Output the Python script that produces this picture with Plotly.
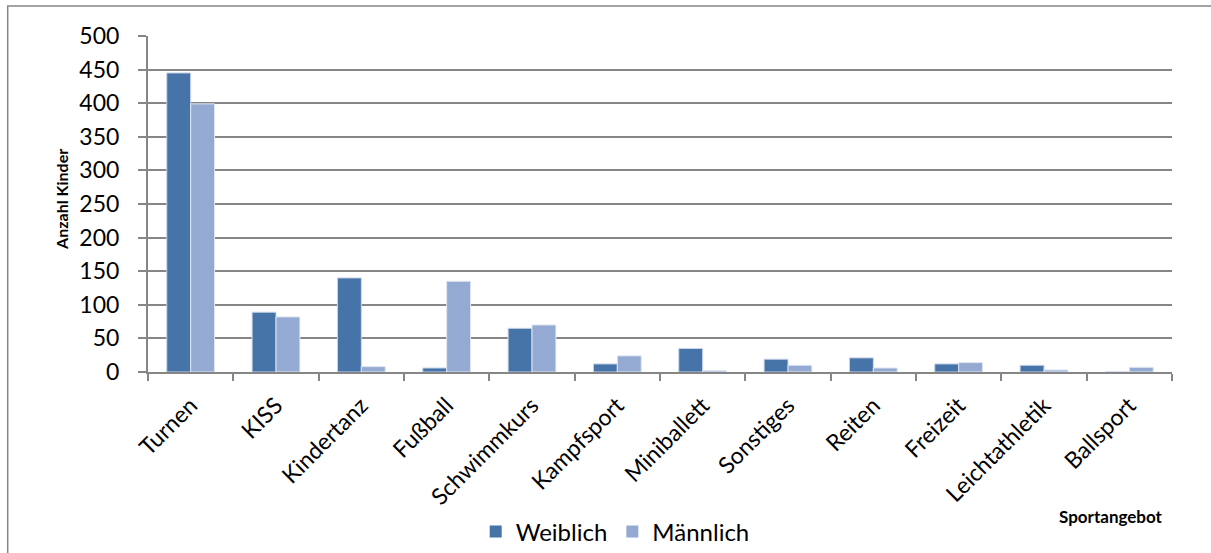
import plotly.graph_objects as go

categories = ["Turnen", "KISS", "Kindertanz", "Fußball", "Schwimmkurs", "Kampfsport",
              "Miniballett", "Sonstiges", "Reiten", "Freizeit", "Leichtathletik", "Ballsport"]
weiblich = [445, 89, 140, 6, 65, 12, 35, 19, 21, 12, 10, 0]
maennlich = [399, 82, 8, 135, 70, 24, 2, 10, 6, 14, 3, 7]
y_ticks = [0, 50, 100, 150, 200, 250, 300, 350, 400, 450, 500]

FONT = "Lato, 'Open Sans', sans-serif"
C_W = "#4673a8"
C_M = "#95aad2"

fig = go.Figure()
fig.add_trace(go.Bar(x=categories, y=weiblich, name="Weiblich", showlegend=False,
                     marker=dict(color=C_W, line=dict(color="#c9d5e8", width=1))))
fig.add_trace(go.Bar(x=categories, y=maennlich, name="Männlich", showlegend=False,
                     marker=dict(color=C_M, line=dict(color="#dfe6f2", width=1))))
# legend entries with square swatches
fig.add_trace(go.Scatter(x=[None], y=[None], mode="markers", name="Weiblich",
                         marker=dict(symbol="square", size=16, color=C_W)))
fig.add_trace(go.Scatter(x=[None], y=[None], mode="markers", name="Männlich",
                         marker=dict(symbol="square", size=16, color=C_M)))

fig.update_layout(
    width=1211, height=553,
    margin=dict(l=148, r=39, t=36, b=181, autoexpand=False),
    paper_bgcolor="white", plot_bgcolor="white",
    barmode="group", bargap=0.44, bargroupgap=0,
    font=dict(family=FONT, color="#000000"),
    showlegend=True,
    legend=dict(orientation="h", xref="container", x=0.508, xanchor="center",
                yref="container", y=0.038, yanchor="middle",
                font=dict(size=24, family=FONT), itemsizing="constant",
                traceorder="normal", itemwidth=30, bgcolor="rgba(0,0,0,0)"),
    xaxis=dict(type="category", tickangle=-45, tickfont=dict(size=23, family=FONT),
               showline=True, linecolor="#868686", linewidth=2,
               ticks="outside", tickson="boundaries", ticklen=7, tickcolor="#868686", tickwidth=2,
               ticklabelstandoff=9, showgrid=False),
    yaxis=dict(range=[0, 500], tickvals=y_ticks, tickfont=dict(size=23, family=FONT),
               showline=True, linecolor="#868686", linewidth=2,
               ticks="outside", ticklen=8, tickcolor="#868686", tickwidth=2,
               ticklabelstandoff=14,
               showgrid=True, gridcolor="#868686", gridwidth=1.5, zeroline=False),
    annotations=[
        dict(text="<b>Anzahl Kinder</b>", textangle=-90, xref="paper", yref="paper",
             x=-0.084, y=0.515, showarrow=False, font=dict(size=16, family=FONT),
             xanchor="center", yanchor="middle"),
        dict(text="<b>Sportangebot</b>", xref="paper", yref="paper",
             x=0.94, y=-0.43, showarrow=False, font=dict(size=17, family=FONT),
             xanchor="center", yanchor="middle"),
    ],
    shapes=[
        dict(type="rect", xref="paper", yref="paper", x0=-0.137, x1=1.06, y0=-0.62, y1=1.089,
             line=dict(color="#868686", width=1.5), fillcolor="rgba(0,0,0,0)", layer="below"),
    ],
)

fig.write_html("out.html")
